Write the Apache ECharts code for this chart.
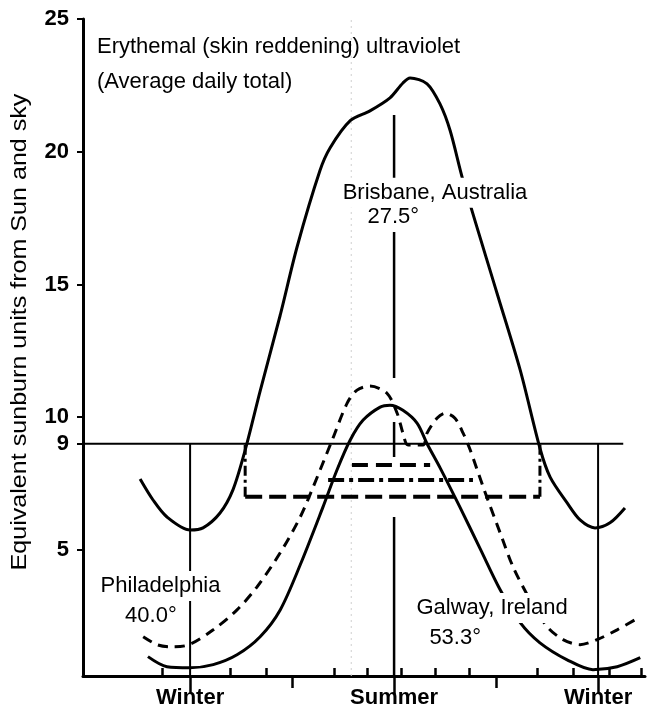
<!DOCTYPE html>
<html>
<head>
<meta charset="utf-8">
<script src="https://cdn.jsdelivr.net/npm/echarts@6/dist/echarts.min.js"></script>
<style>
html, body { margin: 0; padding: 0; background: #fff; }
#chart { width: 649px; height: 714px; }
</style>
</head>
<body>
<div id="chart"></div>
<script>
// x = months counted from the winter solstice (0 Winter, 6 Summer, 12 Winter)
const brisbane = [[-1.47,7.67],[-1.09,6.88],[-0.68,6.24],[0,5.75],[0.38,5.83],[0.88,6.39],[1.26,7.26],[1.62,8.76],
  [2.06,10.98],[2.65,13.84],[3.15,16.43],[3.82,19.29],[4.12,20.15],[4.71,21.17],[5.29,21.54],[5.88,22.03],
  [6.26,22.59],[6.47,22.78],[6.97,22.56],[7.35,21.8],[7.65,20.79],[8.03,18.91],[9.03,14.66],[9.71,11.77],
  [10.29,8.83],[10.59,7.74],[11.09,6.77],[11.47,6.13],[11.91,5.83],[12.35,6.02],[12.79,6.58]];
const philadelphia = [[-1.38,1.73],[-0.97,1.43],[-0.59,1.35],[-0.03,1.43],[0.68,1.99],[1.38,2.74],[1.97,3.61],
  [2.65,4.89],[3.24,6.24],[3.62,7.37],[4.18,9.14],[4.62,10.53],[4.91,11.02],[5.29,11.17],[5.79,10.9],[6.09,10.15],
  [6.26,9.4],[6.41,8.95],[6.85,8.95],[6.97,9.4],[7.26,9.96],[7.5,10.15],[7.79,9.96],[8.03,9.4],[8.24,8.76],
  [8.62,7.37],[9.12,5.64],[9.5,4.36],[10,3.12],[10.5,2.11],[10.97,1.62],[11.47,1.43],[11.97,1.62],[12.56,1.99],[13.24,2.48]];
const galway = [[-1.24,0.98],[-0.68,0.6],[0,0.56],[0.68,0.68],[1.38,1.05],[2.06,1.73],[2.65,2.74],[3.24,4.44],
  [3.91,6.62],[4.32,8.01],[4.71,9.14],[5.09,9.89],[5.59,10.38],[5.88,10.45],[6.26,10.26],[6.68,9.77],[6.97,9.0],
  [7.35,8.1],[7.94,6.6],[8.53,5.05],[9.12,3.5],[9.71,2.26],[10.29,1.5],[11.09,0.86],[11.85,0.49],
  [12.56,0.6],[13.24,0.94]];

const threshold = 9;
const thresholdEnd = 12.74;
// spans above the threshold: [from, to, level]
const brisbaneSpan = [1.62, 10.29, 7.0];
const philadelphiaSpan = [4.06, 8.32, 7.63];
const galwaySpan = [4.76, 7.06, 8.2];

const winterLines = [0, 12];
const summerSegments = [[21.38, 11.48], [9.82, 8.5], [6.24, 0.25]];
const faintLine = 4.74;

const yTicks = [5, 9, 10, 15, 20, 25];
const seasonTicks = [0, 6, 12];
const seasonNames = ['Winter', 'Summer', 'Winter'];
const equinoxTicks = [3, 9];
const monthTicks = [-0.82, 1.18, 2.24, 4.24, 5.21, 6.21, 7.21, 8.21, 10.21, 11.26, 12.32, 13.26];

const labels = [
  ['Brisbane, Australia', 4.4, 18.45],
  ['27.5°', 5.13, 17.54],
  ['Philadelphia', -2.72, 3.64],
  ['40.0°', -2.0, 2.51],
  ['Galway, Ireland', 6.57, 2.81],
  ['53.3°', 6.95, 1.68]
];

const xMin = -3.15, xMax = 13.38, yMin = 0.25, yMax = 25;
const FONT = '"Liberation Sans", Arial, Helvetica, sans-serif';

function line(data, style, z) {
  return {
    type: 'line', data: data, symbol: 'none', smooth: false, z: z || 3,
    lineStyle: Object.assign({ color: '#000', width: 2 }, style),
    animation: false, silent: true
  };
}
function vert(x, a, b) { return [[x, a], [x, b]]; }

const series = [];
series.push(line(vert(faintLine, yMin, yMax), { color: '#cfcfcf', width: 1, type: [2, 4] }, 1));
series.push(line([[xMin, threshold], [thresholdEnd, threshold]], { width: 2 }));
winterLines.forEach(function (x) { series.push(line(vert(x, threshold, yMin), { width: 2 })); });
summerSegments.forEach(function (s) { series.push(line(vert(6, s[0], s[1]), { width: 2.5 })); });

series.push(line([[brisbaneSpan[0], brisbaneSpan[2]], [brisbaneSpan[1], brisbaneSpan[2]]], { width: 4, type: [17, 7] }));
series.push(line(vert(brisbaneSpan[0], brisbaneSpan[2], threshold), { width: 3, type: [10, 4, 3, 4] }));
series.push(line(vert(brisbaneSpan[1], brisbaneSpan[2], threshold), { width: 3, type: [10, 4, 3, 4] }));
series.push(line([[philadelphiaSpan[0], philadelphiaSpan[2]], [philadelphiaSpan[1], philadelphiaSpan[2]]], { width: 4, type: [16, 5, 4, 5] }));
series.push(line([[galwaySpan[0], galwaySpan[2]], [galwaySpan[1], galwaySpan[2]]], { width: 4, type: [16, 8] }));

series.push(Object.assign(line(brisbane, { width: 3 }, 4), { name: 'Brisbane', smooth: 0.3 }));
series.push(Object.assign(line(philadelphia, { width: 3, type: [10, 7] }, 4), { name: 'Philadelphia', smooth: 0.3 }));
series.push(Object.assign(line(galway, { width: 3 }, 4), { name: 'Galway', smooth: 0.3 }));

const chart = echarts.init(document.getElementById('chart'), null, { renderer: 'canvas' });
const baseX = { type: 'value', min: xMin, max: xMax, position: 'bottom', splitLine: { show: false } };
chart.setOption({
  animation: false,
  backgroundColor: '#fff',
  title: {
    text: 'Erythemal (skin reddening) ultraviolet\n(Average daily total)',
    left: 92, top: 24,
    textStyle: { fontFamily: FONT, fontSize: 22, fontWeight: 'normal', color: '#000', lineHeight: 35 }
  },
  grid: { left: 83, top: 19, width: 562, height: 657, containLabel: false },
  xAxis: [
    Object.assign({}, baseX, {
      axisLine: { onZero: false, lineStyle: { color: '#000', width: 3 } },
      axisTick: { inside: true, length: 8, customValues: monthTicks, lineStyle: { color: '#000', width: 2.5 } },
      axisLabel: { show: false }
    }),
    Object.assign({}, baseX, {
      axisLine: { show: false, onZero: false },
      axisTick: { length: 18, customValues: seasonTicks, lineStyle: { color: '#000', width: 2.5 } },
      axisLabel: {
        customValues: seasonTicks, margin: 11,
        formatter: function (v) { return seasonNames[seasonTicks.indexOf(v)]; },
        color: '#000', fontFamily: FONT, fontSize: 22, fontWeight: 'bold'
      }
    }),
    Object.assign({}, baseX, {
      axisLine: { show: false, onZero: false },
      axisTick: { length: 12, customValues: equinoxTicks, lineStyle: { color: '#000', width: 2.5 } },
      axisLabel: { show: false }
    })
  ],
  yAxis: {
    type: 'value', min: yMin, max: yMax, position: 'left',
    splitLine: { show: false },
    axisLine: { onZero: false, lineStyle: { color: '#000', width: 3 } },
    axisTick: { length: 6, customValues: yTicks, lineStyle: { color: '#000', width: 2 } },
    axisLabel: { customValues: yTicks, margin: 14, color: '#000', fontFamily: FONT, fontSize: 22, fontWeight: 'bold' }
  },
  series: series
});

// place the curve names through the chart's own scales
const graphics = [{
  type: 'text', x: 20, y: 332, rotation: Math.PI / 2, scaleX: 1.14,
  style: {
    text: 'Equivalent sunburn units from Sun and sky',
    fontFamily: FONT, fontSize: 22, fill: '#000',
    align: 'center', verticalAlign: 'middle'
  }
}];
labels.forEach(function (l) {
  const p = chart.convertToPixel({ xAxisIndex: 0, yAxisIndex: 0 }, [l[1], l[2]]);
  graphics.push({
    type: 'text', x: p[0], y: p[1], z: 100,
    style: {
      text: l[0], fontFamily: FONT, fontSize: 22, fill: '#000',
      align: 'left', verticalAlign: 'middle',
      backgroundColor: '#fff', padding: [4, 3]
    }
  });
});
chart.setOption({ graphic: graphics });
</script>
</body>
</html>
